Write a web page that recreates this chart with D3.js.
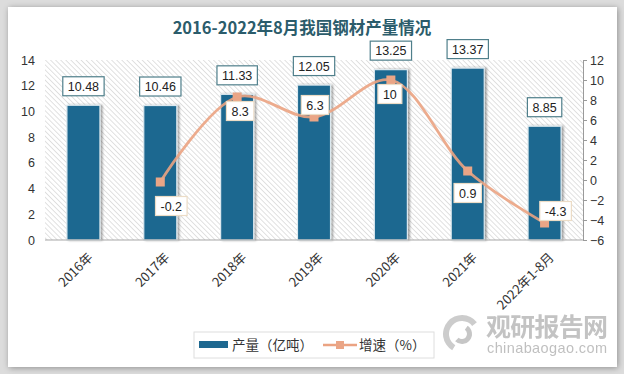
<!DOCTYPE html>
<html>
<head>
<meta charset="utf-8">
<script src="https://cdn.jsdelivr.net/npm/d3@7/dist/d3.min.js"></script>
<style>
  html, body { margin: 0; padding: 0; background: #dcdcdc; }
  svg { display: block; }
  text { font-family: "Liberation Sans", Arial, sans-serif; }
  .cjk { font-family: "Noto Sans CJK SC", sans-serif; }
</style>
</head>
<body>
<svg id="chart" width="624" height="374"></svg>
<script>
// ---- data ----
const categories = ['2016年', '2017年', '2018年', '2019年', '2020年', '2021年', '2022年1-8月'];
const output = [10.48, 10.46, 11.33, 12.05, 13.25, 13.37, 8.85];      // 产量（亿吨）
const growth = [null, -0.2, 8.3, 6.3, 10, 0.9, -4.3];                  // 增速（%）
const leftTicks = [0, 2, 4, 6, 8, 10, 12, 14];
const rightTicks = [-6, -4, -2, 0, 2, 4, 6, 8, 10, 12];

// label placement for the growth labels (layout only)
const growthLabelPlace = [null, 'below', 'below', 'above', 'below', 'below', 'above'];
const growthLabelShift = [0, 11, 3, 1, -1, 0, 11];

const plot = { left: 45, right: 583, top: 60, bottom: 240 };
const barColor = '#1e6890';
const lineColor = '#eba382';

const svg = d3.select('#chart');
const defs = svg.append('defs');

// card shadow
const cardShadow = defs.append('filter').attr('id', 'cardShadow')
  .attr('x', '-5%').attr('y', '-5%').attr('width', '110%').attr('height', '110%');
cardShadow.append('feGaussianBlur').attr('in', 'SourceAlpha').attr('stdDeviation', 3);
cardShadow.append('feOffset').attr('dx', 1).attr('dy', 1).attr('result', 'b');
cardShadow.append('feComponentTransfer').append('feFuncA').attr('type', 'linear').attr('slope', 0.35);
const m1 = cardShadow.append('feMerge');
m1.append('feMergeNode');
m1.append('feMergeNode').attr('in', 'SourceGraphic');

// bar shadow
const barShadow = defs.append('filter').attr('id', 'barShadow')
  .attr('x', '-20%').attr('y', '-10%').attr('width', '150%').attr('height', '120%');
barShadow.append('feGaussianBlur').attr('in', 'SourceAlpha').attr('stdDeviation', 1.2);
barShadow.append('feOffset').attr('dx', 2).attr('dy', 0);
barShadow.append('feComponentTransfer').append('feFuncA').attr('type', 'linear').attr('slope', 0.35);
const m2 = barShadow.append('feMerge');
m2.append('feMergeNode');
m2.append('feMergeNode').attr('in', 'SourceGraphic');

// diagonal hatch for plot area
const hatch = defs.append('pattern').attr('id', 'hatch')
  .attr('patternUnits', 'userSpaceOnUse')
  .attr('width', 3.6).attr('height', 3.6)
  .attr('patternTransform', 'rotate(-45)');
hatch.append('rect').attr('width', 3.6).attr('height', 3.6).attr('fill', '#fff');
hatch.append('line').attr('x1', 0).attr('y1', 0).attr('x2', 0).attr('y2', 3.6)
  .attr('stroke', '#c9c9c9').attr('stroke-width', 1.1);

// background card
svg.append('rect').attr('x', 8).attr('y', 7).attr('width', 609).attr('height', 360)
  .attr('fill', '#fff').attr('filter', 'url(#cardShadow)');

// title
svg.append('text').attr('class', 'cjk')
  .attr('x', 302).attr('y', 34)
  .attr('text-anchor', 'middle')
  .attr('font-size', 16.5).attr('font-weight', 'bold')
  .attr('fill', '#2b5c6b')
  .text('2016-2022年8月我国钢材产量情况');

// scales
const x = d3.scaleBand().domain(categories).range([plot.left, plot.right]).padding(0);
const yL = d3.scaleLinear().domain([0, 14]).range([plot.bottom, plot.top]);
const yR = d3.scaleLinear().domain([-6, 12]).range([plot.bottom, plot.top]);
const barW = x.bandwidth() * 0.43;
const cx = d => x(d) + x.bandwidth() / 2;

// plot area hatch
svg.append('rect')
  .attr('x', plot.left).attr('y', plot.top)
  .attr('width', plot.right - plot.left).attr('height', plot.bottom - plot.top)
  .attr('fill', 'url(#hatch)');

// left axis (labels only)
const leftAxis = svg.append('g')
  .attr('transform', `translate(${plot.left},0)`)
  .call(d3.axisLeft(yL).tickValues(leftTicks).tickSize(0).tickPadding(10));
leftAxis.select('.domain').remove();
leftAxis.selectAll('text').attr('font-size', 12.5).attr('fill', '#333')
  .attr('font-family', '"Liberation Sans", Arial, sans-serif');

// right axis
const rightAxis = svg.append('g')
  .attr('transform', `translate(${plot.right},0)`)
  .call(d3.axisRight(yR).tickValues(rightTicks).tickSize(4).tickPadding(3).tickSizeOuter(0));
rightAxis.select('.domain').attr('stroke', '#9a9a9a');
rightAxis.selectAll('line').attr('stroke', '#9a9a9a');
rightAxis.selectAll('text').attr('font-size', 12.5).attr('fill', '#333')
  .attr('font-family', '"Liberation Sans", Arial, sans-serif');

// bars
svg.append('g').selectAll('rect')
  .data(categories)
  .join('rect')
  .attr('x', d => cx(d) - barW / 2)
  .attr('y', (d, i) => yL(output[i]))
  .attr('width', barW)
  .attr('height', (d, i) => yL(0) - yL(output[i]))
  .attr('fill', barColor)
  .attr('stroke', '#dde9ef')
  .attr('stroke-width', 1.2)
  .attr('filter', 'url(#barShadow)');

// x baseline
svg.append('line')
  .attr('x1', plot.left).attr('x2', plot.right)
  .attr('y1', plot.bottom).attr('y2', plot.bottom)
  .attr('stroke', '#a8a8a8').attr('stroke-width', 1.2);

// x labels, rotated
svg.append('g').selectAll('text')
  .data(categories)
  .join('text')
  .attr('class', 'cjk')
  .attr('transform', d => `translate(${cx(d) + 7},${plot.bottom + 15}) rotate(-45)`)
  .attr('text-anchor', 'end')
  .attr('dy', '0.35em')
  .attr('font-size', 13)
  .attr('fill', '#333')
  .text(d => d);

// growth line
const pts = categories.map((c, i) => ({ c, v: growth[i], i })).filter(p => p.v !== null);
const line = d3.line()
  .x(p => cx(p.c))
  .y(p => yR(p.v))
  .curve(d3.curveCatmullRom.alpha(0.5));
svg.append('path')
  .datum(pts)
  .attr('d', line)
  .attr('fill', 'none')
  .attr('stroke', lineColor)
  .attr('stroke-width', 2.8)
  .attr('stroke-opacity', 0.9);

svg.append('g').selectAll('rect')
  .data(pts)
  .join('rect')
  .attr('x', p => cx(p.c) - 4.5)
  .attr('y', p => yR(p.v) - 4.5)
  .attr('width', 9).attr('height', 9)
  .attr('fill', '#eaa586');

// label box helper
function labelBox(g, cxp, cyp, txt, border) {
  const t = g.append('text')
    .attr('x', cxp).attr('y', cyp)
    .attr('text-anchor', 'middle')
    .attr('dy', '0.36em')
    .attr('font-size', 12.5)
    .attr('fill', '#222')
    .text(txt);
  const bb = t.node().getBBox();
  g.insert('rect', 'text')
    .attr('x', bb.x - 5).attr('y', cyp - 9.5)
    .attr('width', bb.width + 10).attr('height', 19)
    .attr('fill', '#fff')
    .attr('stroke', border)
    .attr('stroke-width', 1.2);
}

// bar labels
categories.forEach((c, i) => {
  const g = svg.append('g');
  labelBox(g, cx(c), yL(output[i]) - 19, output[i].toFixed(2), '#4f7f8b');
});

// growth labels
pts.forEach(p => {
  const g = svg.append('g');
  const below = growthLabelPlace[p.i] === 'below';
  const off = p.i === 5 ? 22 : (p.i === 1 ? 24 : 14);
  const yy = yR(p.v) + (below ? off : -off + 2);
  labelBox(g, cx(p.c) + growthLabelShift[p.i], yy, String(p.v), '#ecdcc6');
});

// legend
const lg = svg.append('g');
lg.append('rect').attr('x', 194).attr('y', 332).attr('width', 240).attr('height', 26)
  .attr('fill', '#fff').attr('stroke', '#dedede');
lg.append('rect').attr('x', 199).attr('y', 341).attr('width', 29).attr('height', 7)
  .attr('fill', barColor);
lg.append('text').attr('class', 'cjk').attr('x', 232).attr('y', 345).attr('dy', '0.36em')
  .attr('font-size', 13.5).attr('fill', '#333').text('产量（亿吨）');
lg.append('line').attr('x1', 323).attr('x2', 357).attr('y1', 345).attr('y2', 345)
  .attr('stroke', lineColor).attr('stroke-width', 2.5);
lg.append('rect').attr('x', 336).attr('y', 341).attr('width', 8).attr('height', 8)
  .attr('fill', '#eaa586');
lg.append('text').attr('class', 'cjk').attr('x', 359).attr('y', 345).attr('dy', '0.36em')
  .attr('font-size', 13.5).attr('fill', '#333').text('增速（%）');

// watermark
const wm = svg.append('g').attr('opacity', 0.85);
wm.append('path')
  .attr('d', d3.arc()({ innerRadius: 13, outerRadius: 19, startAngle: -2.6, endAngle: 0.9 }))
  .attr('transform', 'translate(462,334)').attr('fill', '#c4c4c4');
wm.append('path')
  .attr('d', d3.arc()({ innerRadius: 5, outerRadius: 10, startAngle: 0.6, endAngle: 3.9 }))
  .attr('transform', 'translate(462,334)').attr('fill', '#bdbdbd');
wm.append('text').attr('class', 'cjk').attr('x', 486).attr('y', 336)
  .attr('font-size', 25).attr('font-weight', 'bold').attr('fill', '#b9b9b9')
  .attr('textLength', 122).text('观研报告网');
wm.append('text').attr('x', 487).attr('y', 353)
  .attr('font-size', 14.5).attr('fill', '#b5b5b5')
  .attr('textLength', 120).text('chinabaogao.com');
</script>
</body>
</html>
